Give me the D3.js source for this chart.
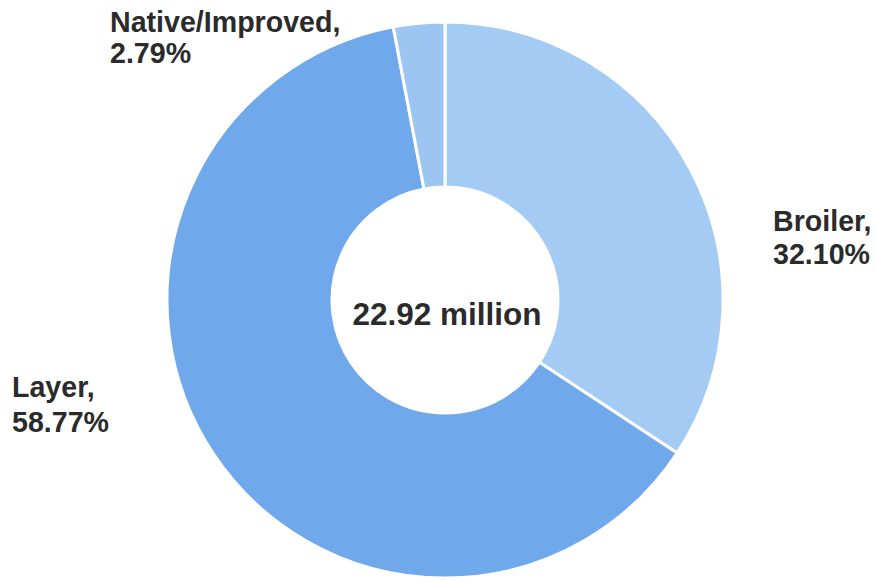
<!DOCTYPE html>
<html>
<head>
<meta charset="utf-8">
<script src="https://cdn.jsdelivr.net/npm/d3@7"></script>
<style>
  body { margin: 0; background: #fff; }
  text { font-family: "Liberation Sans", Arial, sans-serif; font-weight: bold; fill: #2b2b2b; }
</style>
</head>
<body>
<div id="container"></div>
<script>
const width = 877;
const height = 582;

// data
const categories = ["Broiler", "Layer", "Native/Improved"];
const shares = [32.10, 58.77, 2.79];
const total = "22.92 million";
const colors = ["#a3cbf4", "#70a8ec", "#9cc6f1"];

// label placement (left x, first baseline y, line gap)
const labelPos = [
    [773, 231, 33],
    [12, 397, 35],
    [110, 32, 31]
];

const cx = 445, cy = 300;
const outerR = 278, innerR = 113;

const svg = d3.select("div#container").append("svg")
    .attr("width", width)
    .attr("height", height);

const pie = d3.pie().sort(null).value(function(d) { return d; });
const arc = d3.arc().innerRadius(innerR).outerRadius(outerR);

const g = svg.append("g").attr("transform", "translate(" + cx + "," + cy + ")");

g.selectAll("path")
    .data(pie(shares))
    .enter()
    .append("path")
    .attr("d", arc)
    .attr("fill", function(d, i) { return colors[i]; })
    .attr("stroke", "#fff")
    .attr("stroke-width", 3)
    .attr("stroke-linejoin", "round");

// category labels
categories.forEach(function(c, i) {
    const p = labelPos[i];
    const t = svg.append("text")
        .attr("x", p[0])
        .attr("y", p[1])
        .style("font-size", "28.6px");
    t.append("tspan").attr("x", p[0]).text(c + ",");
    t.append("tspan").attr("x", p[0]).attr("dy", p[2])
        .text(shares[i].toFixed(2) + "%");
});

// total in the middle
g.append("text")
    .attr("x", 2)
    .attr("y", 25)
    .attr("text-anchor", "middle")
    .style("font-size", "31.5px")
    .text(total);
</script>
</body>
</html>
